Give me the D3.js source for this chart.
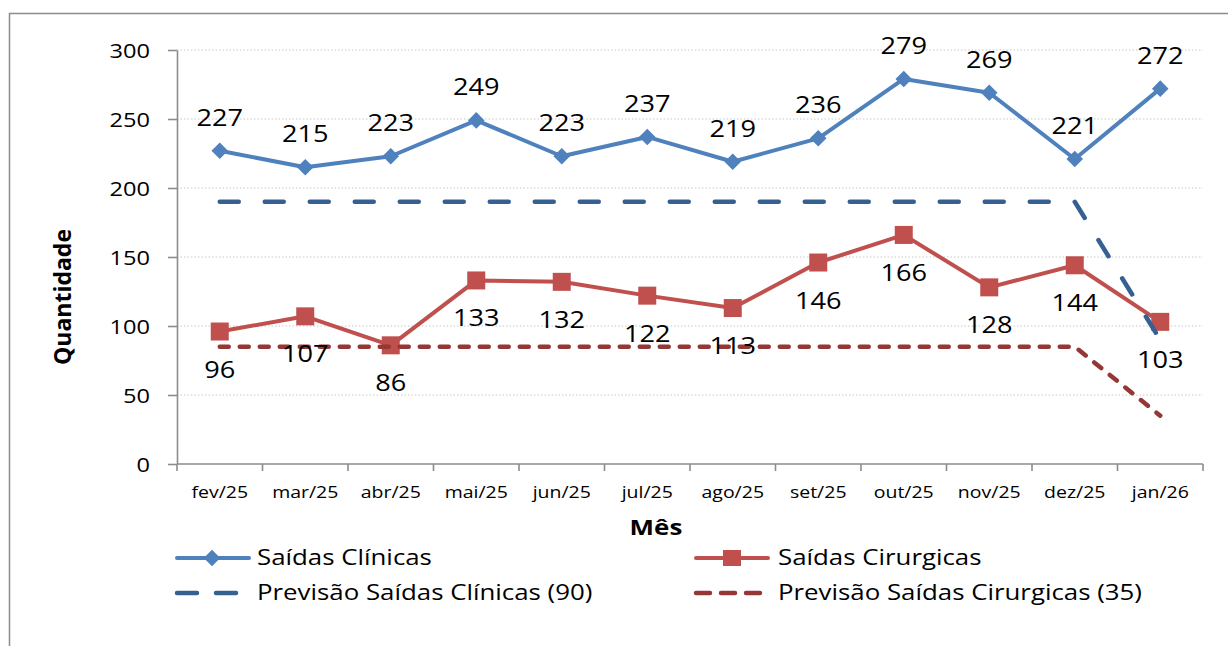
<!DOCTYPE html>
<html lang="pt">

<head>
  <meta charset="utf-8">
  <style>
    body { margin: 0; background: #fff; }
    text { font-family: "Open Sans", sans-serif; fill: #000; }
    .grid line { stroke: #c8c8c8; stroke-width: 1px; stroke-dasharray: 1.5 2; }
    .axis path, .axis line { stroke: #8c8c8c; stroke-width: 1.6px; }
    .tick-label { font-size: 20px; }
    .x-label { font-size: 16.5px; }
    .data-label { font-size: 23px; }
    .legend text { font-size: 21px; }
    .title { font-weight: bold; }
  </style>
  <script src="https://d3js.org/d3.v7.min.js"></script>
</head>
<body>
  <script>
    const months = ["fev/25", "mar/25", "abr/25", "mai/25", "jun/25", "jul/25",
      "ago/25", "set/25", "out/25", "nov/25", "dez/25", "jan/26"];
    const clinicas = [227, 215, 223, 249, 223, 237, 219, 236, 279, 269, 221, 272];
    const cirurgicas = [96, 107, 86, 133, 132, 122, 113, 146, 166, 128, 144, 103];
    const prevClinicas = [190, 190, 190, 190, 190, 190, 190, 190, 190, 190, 190, 90];
    const prevCirurgicas = [85, 85, 85, 85, 85, 85, 85, 85, 85, 85, 85, 35];
    const yTicks = [0, 50, 100, 150, 200, 250, 300];

    const W = 1228, H = 646;
    const plot = { left: 177, right: 1203, top: 50, bottom: 464 };

    const svg = d3.select("body")
      .append("svg")
      .attr("width", W)
      .attr("height", H);

    // outer frame (only top and left show in the picture)
    svg.append("rect")
      .attr("x", 9.5).attr("y", 13.5)
      .attr("width", W + 10).attr("height", H + 10)
      .attr("fill", "none")
      .attr("stroke", "#8c8c8c")
      .attr("stroke-width", 1.5);

    const x = d3.scaleBand()
      .domain(months)
      .range([plot.left, plot.right]);

    const cx = m => x(m) + x.bandwidth() / 2;

    const y = d3.scaleLinear()
      .domain([0, 300])
      .range([plot.bottom, plot.top]);

    // dotted gridlines
    svg.append("g")
      .attr("class", "grid")
      .selectAll("line")
      .data(yTicks.filter(d => d > 0))
      .join("line")
      .attr("x1", plot.left).attr("x2", plot.right)
      .attr("y1", d => y(d)).attr("y2", d => y(d));

    // y axis
    const yAxis = svg.append("g")
      .attr("class", "axis")
      .attr("transform", `translate(${plot.left},0)`)
      .call(d3.axisLeft(y).tickValues(yTicks).tickSize(9).tickSizeOuter(0).tickPadding(18));
    yAxis.selectAll("text").attr("class", "tick-label wide").attr("dy", "0.36em");

    // x axis: ticks sit on band edges
    const xAxis = svg.append("g")
      .attr("class", "axis")
      .attr("transform", `translate(0,${plot.bottom})`)
      .call(d3.axisBottom(x).tickSize(0).tickPadding(22));
    xAxis.selectAll("text").attr("class", "x-label wide");
    xAxis.select(".domain").attr("d", `M${plot.left},0H${plot.right}`);
    xAxis.selectAll(".edge")
      .data(d3.range(months.length + 1))
      .join("line")
      .attr("class", "edge")
      .attr("x1", i => plot.left + i * x.step())
      .attr("x2", i => plot.left + i * x.step())
      .attr("y1", 0).attr("y2", 7);

    // axis titles
    svg.append("text")
      .attr("class", "title wide")
      .attr("x", 656).attr("y", 535)
      .attr("text-anchor", "middle")
      .style("font-size", "22px")
      .text("Mês");

    svg.append("text")
      .attr("class", "title")
      .attr("transform", "translate(71,297) rotate(-90)")
      .attr("text-anchor", "middle")
      .style("font-size", "23px")
      .text("Quantidade");

    const line = d3.line()
      .x((d, i) => cx(months[i]))
      .y(d => y(d));

    // actual series
    svg.append("path")
      .datum(clinicas)
      .attr("d", line)
      .attr("fill", "none")
      .attr("stroke", "#4F81BD")
      .attr("stroke-width", 4)
      .attr("stroke-linejoin", "round");

    const diamond = d3.symbol().type(d3.symbolDiamond2).size(175);
    svg.append("g")
      .selectAll("path")
      .data(clinicas)
      .join("path")
      .attr("transform", (d, i) => `translate(${cx(months[i])},${y(d)})`)
      .attr("d", diamond)
      .attr("fill", "#4F81BD");

    svg.append("path")
      .datum(cirurgicas)
      .attr("d", line)
      .attr("fill", "none")
      .attr("stroke", "#C0504D")
      .attr("stroke-width", 4)
      .attr("stroke-linejoin", "round");

    svg.append("g")
      .selectAll("rect")
      .data(cirurgicas)
      .join("rect")
      .attr("x", (d, i) => cx(months[i]) - 9)
      .attr("y", d => y(d) - 9)
      .attr("width", 18).attr("height", 18)
      .attr("fill", "#C0504D");

    // forecast series
    svg.append("path")
      .datum(prevClinicas)
      .attr("d", line)
      .attr("fill", "none")
      .attr("stroke", "#376092")
      .attr("stroke-width", 4.5)
      .attr("stroke-linecap", "round")
      .attr("stroke-linejoin", "round")
      .attr("stroke-dasharray", "19 26");

    svg.append("path")
      .datum(prevCirurgicas)
      .attr("d", line)
      .attr("fill", "none")
      .attr("stroke", "#953735")
      .attr("stroke-width", 4.5)
      .attr("stroke-linecap", "round")
      .attr("stroke-linejoin", "round")
      .attr("stroke-dasharray", "9 11");

    // data labels
    svg.append("g")
      .selectAll("text")
      .data(clinicas)
      .join("text")
      .attr("class", "data-label wide")
      .attr("x", (d, i) => cx(months[i]))
      .attr("y", d => y(d) - 25)
      .attr("text-anchor", "middle")
      .text(d => d);

    svg.append("g")
      .selectAll("text")
      .data(cirurgicas)
      .join("text")
      .attr("class", "data-label wide")
      .attr("x", (d, i) => cx(months[i]))
      .attr("y", d => y(d) + 46)
      .attr("text-anchor", "middle")
      .text(d => d);

    // legend
    const legend = svg.append("g").attr("class", "legend");
    const items = [
      { name: "Saídas Clínicas", color: "#4F81BD", x: 175, y: 558, mark: "diamond", end: 74, tx: 82 },
      { name: "Saídas Cirurgicas", color: "#C0504D", x: 694, y: 558, mark: "square", end: 74, tx: 84 },
      { name: "Previsão Saídas Clínicas (90)", color: "#376092", x: 175, y: 593, dash: "20 19", end: 66, tx: 82 },
      { name: "Previsão Saídas Cirurgicas (35)", color: "#953735", x: 694, y: 593, dash: "14 11", end: 66, tx: 84 }
    ];
    items.forEach(it => {
      const g = legend.append("g").attr("transform", `translate(${it.x},${it.y})`);
      g.append("line")
        .attr("x1", 2).attr("x2", it.end)
        .attr("stroke", it.color)
        .attr("stroke-width", it.dash ? 4.5 : 4)
        .attr("stroke-linecap", "round")
        .attr("stroke-dasharray", it.dash || null);
      if (it.mark === "diamond") {
        g.append("path").attr("transform", "translate(37,0)").attr("d", diamond).attr("fill", it.color);
      } else if (it.mark === "square") {
        g.append("rect").attr("x", 29).attr("y", -8).attr("width", 18).attr("height", 16).attr("fill", it.color);
      }
      g.append("text")
        .attr("class", "wide legend-text")
        .attr("x", it.tx)
        .attr("y", 0)
        .attr("dy", "0.35em")
        .text(it.name);
    });

    // the reference text is a little wider than Open Sans: stretch it
    svg.selectAll("text.wide").each(function () {
      const k = this.classList.contains("legend-text") ? 1.23 : 1.18;
      const len = this.getComputedTextLength();
      d3.select(this)
        .attr("textLength", len * k)
        .attr("lengthAdjust", "spacingAndGlyphs");
    });
  </script>
</body>
</html>
